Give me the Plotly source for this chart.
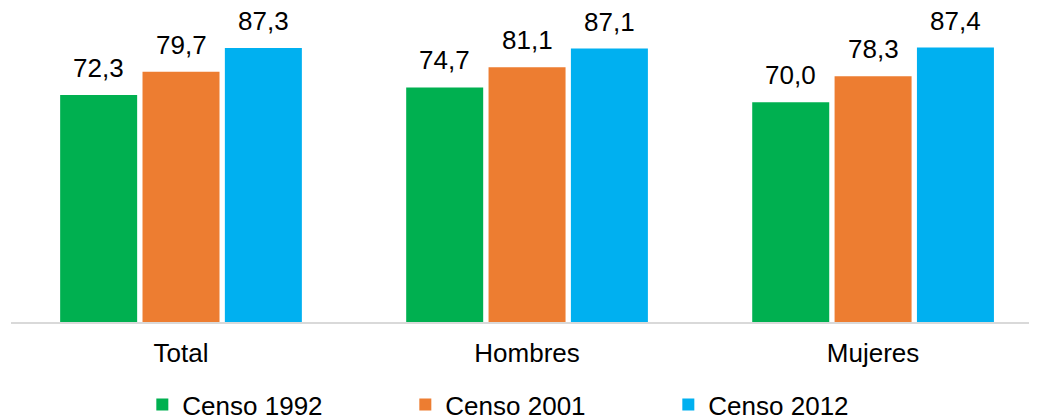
import plotly.graph_objects as go

categorias = ["Total", "Hombres", "Mujeres"]
censos = ["Censo 1992", "Censo 2001", "Censo 2012"]
censo_1992 = [72.3, 74.7, 70.0]
censo_2001 = [79.7, 81.1, 78.3]
censo_2012 = [87.3, 87.1, 87.4]
colores = ["#00B050", "#ED7D31", "#00B0F0"]

series = [censo_1992, censo_2001, censo_2012]

fig = go.Figure()
for nombre, valores, color in zip(censos, series, colores):
    fig.add_trace(go.Bar(x=categorias, y=valores, name=nombre,
                         marker=dict(color=color, line=dict(width=0))))

# etiquetas de valor encima de cada barra
bargap = 0.286
slot = (1 - bargap) / 3
for j, valores in enumerate(series):
    for i, v in enumerate(valores):
        fig.add_annotation(x=i + (j - 1) * slot, y=v, xref="x", yref="y",
                           text=f"{v:.1f}".replace(".", ","),
                           showarrow=False, yanchor="bottom", yshift=10,
                           font=dict(size=26, color="#000000"))

# la página tiene 8px de margen en el body
fig.update_layout(
    width=1029, height=409,
    margin=dict(l=3, r=0, t=0, b=95, autoexpand=False),
    paper_bgcolor="white", plot_bgcolor="white",
    font=dict(family="Arial, Liberation Sans, sans-serif", size=26, color="#000000"),
    barmode="group", bargap=bargap, bargroupgap=0.065,
    showlegend=True,
    legend=dict(orientation="h", x=0.128, xanchor="left", y=-0.188, yanchor="top",
                entrywidth=218, font=dict(size=26), bgcolor="rgba(0,0,0,0)"),
)
fig.update_xaxes(range=[-0.4913, 2.4737], showline=True, linecolor="#D9D9D9", linewidth=1.5,
                 ticks="", showgrid=False, ticklabelstandoff=7)
fig.update_yaxes(range=[0, 100], visible=False, showgrid=False)

fig.write_html("out.html")
